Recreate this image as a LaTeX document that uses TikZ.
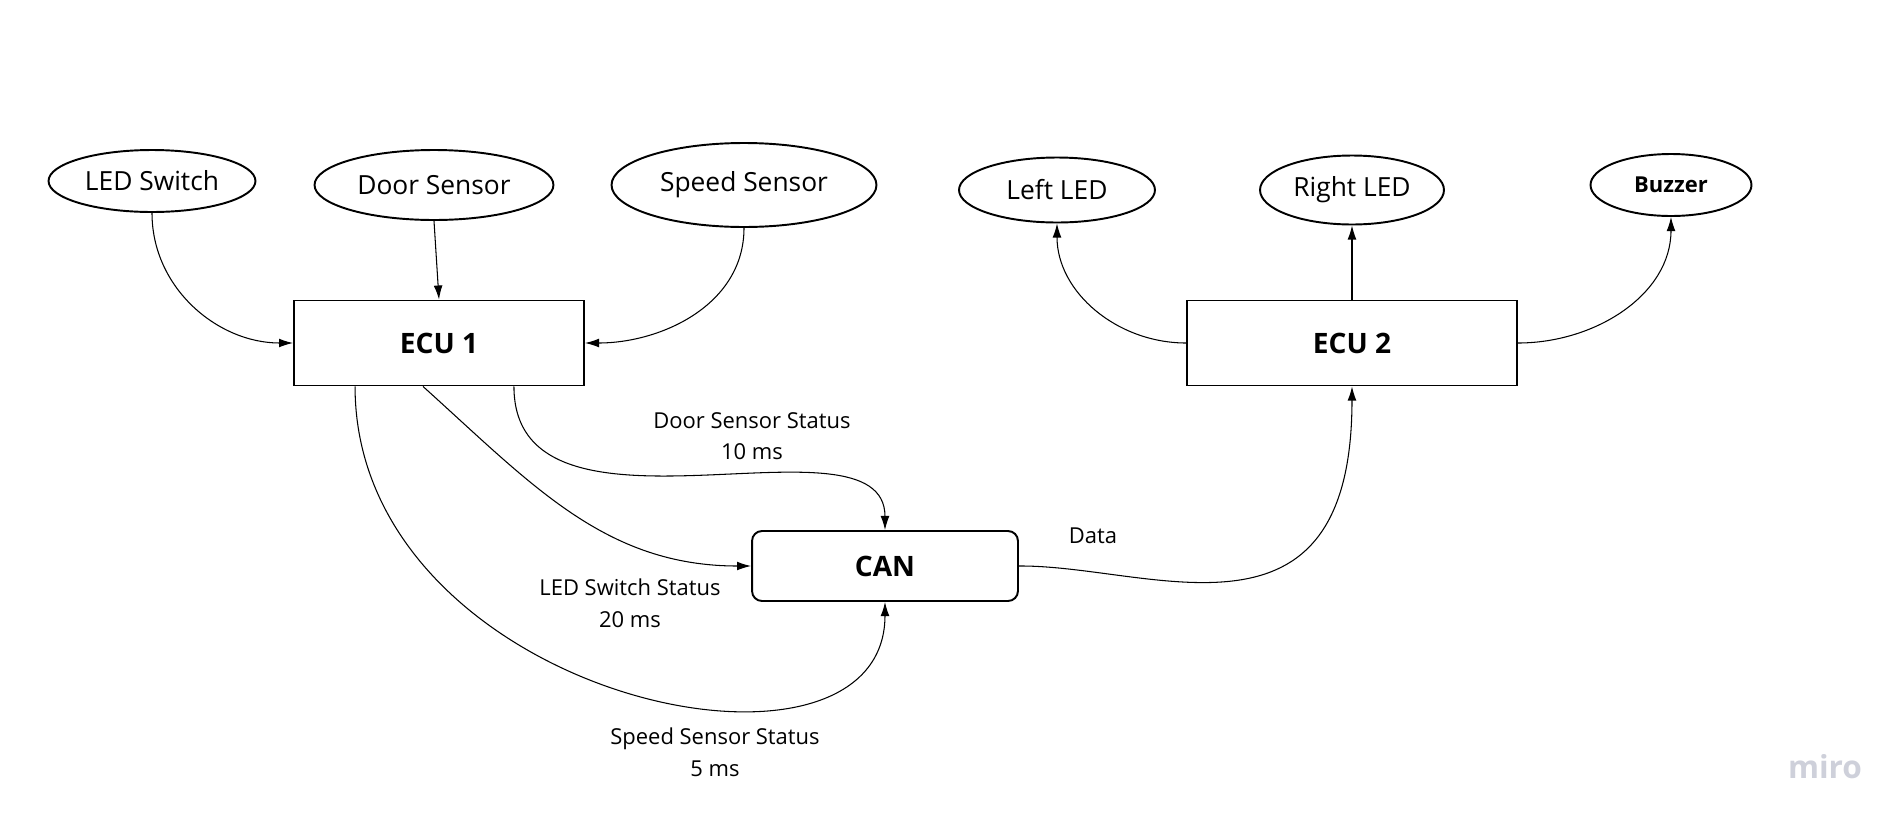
\documentclass[tikz,border=0pt]{standalone}
\usepackage{fontspec}
\setmainfont{Open Sans}
\usetikzlibrary{shapes.geometric, arrows.meta}

\definecolor{wmgray}{RGB}{206,208,218}

\tikzset{
  device/.style={draw, ellipse, line width=1.1pt, inner sep=0pt, font=\fontsize{15}{18}\selectfont},
  ecubox/.style={draw, rectangle, line width=1.1pt, minimum height=1.7cm, font=\fontsize{16}{19}\selectfont\bfseries},
  link/.style={-{Latex[length=8pt, width=5pt]}, line width=0.6pt},
  msg/.style={font=\fontsize{12.5}{15}\selectfont, align=center}
}

\begin{document}
\begin{tikzpicture}[x=0.02cm, y=0.02cm]
        \useasboundingbox (0,0) rectangle (1900,-822);

        % Sensors (inputs of ECU 1).
        \node[device, minimum width=4.14cm, minimum height=1.24cm] (ledswitch) at (152,-181) {LED Switch};
        \node[device, minimum width=4.78cm, minimum height=1.40cm] (doorsensor) at (434,-185) {Door Sensor};
        \node[device, minimum width=5.30cm, minimum height=1.68cm] (speedsensor) at (744,-185) {Speed Sensor};

        % Actuators (outputs of ECU 2).
        \node[device, minimum width=3.92cm, minimum height=1.30cm] (leftled) at (1057,-190) {Left LED};
        \node[device, minimum width=3.68cm, minimum height=1.38cm] (rightled) at (1352,-190) {Right LED};
        \node[device, minimum width=3.22cm, minimum height=1.24cm, font=\fontsize{12.5}{15}\selectfont\bfseries] (buzzer) at (1671,-185) {Buzzer};

        % Control units and bus.
        \node[ecubox, minimum width=5.8cm] (ecu1) at (439,-343) {ECU 1};
        \node[ecubox, minimum width=6.6cm] (ecu2) at (1352,-343) {ECU 2};
        \node[ecubox, rounded corners=0.2cm, minimum width=5.32cm, minimum height=1.4cm] (can) at (885,-566) {CAN};

        % Inputs to ECU 1.
        \draw[link] (ledswitch.south) to[out=-90, in=180] (ecu1.west);
        \draw[link] (doorsensor.south) -- (ecu1.north);
        \draw[link] (speedsensor.south) to[out=-90, in=0] (ecu1.east);

        % Outputs of ECU 2.
        \draw[link] (ecu2.west) to[out=180, in=-90] (leftled.south);
        \draw[link] (ecu2.north) -- (rightled.south);
        \draw[link] (ecu2.east) to[out=0, in=-90] (buzzer.south);

        % Messages from ECU 1 on the bus.
        \draw[link] ([xshift=-1.42cm]ecu1.south east) .. controls +(0,-175) and +(0,125) .. (can.north);
        \draw[link] ([xshift=-0.32cm]ecu1.south) to[out=-42, in=180] (can.west);
        \draw[link] ([xshift=1.24cm]ecu1.south west) .. controls +(0,-312) and +(0,-208) .. (can.south);
        \node[msg] (doorstatus) at (752,-436) {Door Sensor Status\\[3pt]10 ms};
        \node[msg] (ledstatus) at (630,-603) {LED Switch Status\\[3pt]20 ms};
        \node[msg] (speedstatus) at (715,-752) {Speed Sensor Status\\[3pt]5 ms};

        % Bus to ECU 2.
        \draw[link] (can.east) .. controls +(132,1) and +(0,-275) .. (ecu2.south);
        \node[msg] (data) at (1093,-536) {Data};

        % Watermark.
        \node[text=wmgray, font=\fontsize{18}{21}\selectfont\bfseries] (miro) at (1825,-767) {miro};
\end{tikzpicture}
\end{document}
